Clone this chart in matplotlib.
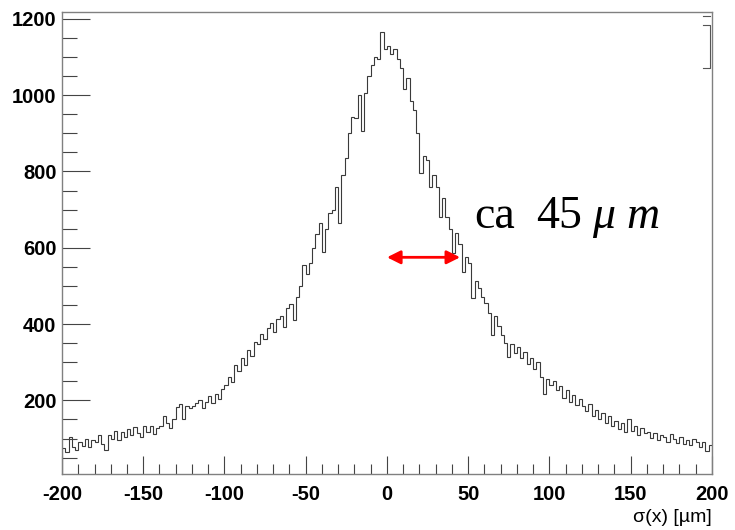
import numpy as np
import matplotlib.pyplot as plt
from matplotlib.lines import Line2D

# histogram range and binning (200 bins of 2 um)
x_min, x_max = -200, 200
n_bins = 200

# bin contents, 10 bins per row (20 um each)
counts = [
    76, 64, 104, 78, 70, 92, 80, 98, 78, 96,             # -200 .. -180
    92, 110, 86, 70, 108, 98, 120, 96, 116, 104,         # -180 .. -160
    124, 108, 130, 114, 104, 134, 118, 132, 112, 128,    # -160 .. -140
    132, 158, 140, 128, 150, 182, 190, 150, 184, 180,    # -140 .. -120
    186, 192, 200, 180, 196, 212, 194, 216, 204, 230,    # -120 .. -100
    240, 262, 248, 292, 276, 312, 294, 332, 316, 352,    # -100 .. -80
    348, 374, 362, 390, 404, 378, 414, 420, 392, 442,    # -80 .. -60
    452, 410, 470, 500, 556, 530, 560, 600, 636, 665,    # -60 .. -40
    590, 650, 690, 700, 760, 665, 790, 835, 900, 942,    # -40 .. -20
    940, 1000, 905, 1005, 1050, 1080, 1100, 1095, 1165, 1120,  # -20 .. 0
    1128, 1108, 1120, 1095, 1070, 1016, 1045, 985, 960, 900,   # 0 .. 20
    797, 840, 830, 758, 790, 760, 681, 730, 680, 650,    # 20 .. 40
    587, 640, 610, 537, 575, 560, 468, 512, 495, 470,    # 40 .. 60
    455, 430, 371, 420, 396, 372, 350, 313, 348, 325,    # 60 .. 80
    340, 312, 328, 296, 310, 282, 300, 262, 218, 256,    # 80 .. 100
    240, 250, 226, 238, 206, 228, 196, 214, 188, 204,    # 100 .. 120
    186, 172, 190, 160, 176, 150, 168, 140, 158, 134,    # 120 .. 140
    146, 124, 140, 118, 152, 120, 132, 108, 128, 114,    # 140 .. 160
    118, 102, 114, 96, 110, 104, 92, 112, 98, 88,        # 160 .. 180
    104, 86, 96, 82, 100, 90, 78, 92, 66, 84,            # 180 .. 200
]

arrow_y = 575
arrow_x0, arrow_x1 = 0, 45

plt.rcParams['font.family'] = ['Liberation Sans', 'DejaVu Sans']
plt.rcParams['axes.unicode_minus'] = False

fig = plt.figure(figsize=(7.35, 5.3), dpi=100)
ax = fig.add_axes([62 / 735, 1 - 474 / 530, 650 / 735, 462 / 530])

edges = np.linspace(x_min, x_max, n_bins + 1)
ax.stairs(counts, edges, color='#3a3a3a', linewidth=0.8)

ax.set_xlim(x_min, x_max)
ax.set_ylim(7, 1218)

ax.set_xticks(np.arange(-200, 201, 50))
ax.set_xticks(np.arange(-200, 201, 10), minor=True)
ax.set_yticks(np.arange(200, 1201, 200))
ax.set_yticks(np.arange(50, 1201, 50), minor=True)

ax.tick_params(axis='both', which='both', direction='in', color='#444444', width=0.8)
ax.tick_params(axis='x', which='major', length=13, pad=8)
ax.tick_params(axis='x', which='minor', length=7)
ax.tick_params(axis='y', which='major', length=20, pad=4)
ax.tick_params(axis='y', which='minor', length=11)
ax.tick_params(top=False, right=False, which='both')

for lab in ax.get_xticklabels() + ax.get_yticklabels():
    lab.set_fontweight('bold')
    lab.set_fontsize(14.5)

for sp in ax.spines.values():
    sp.set_color('#808080')
    sp.set_linewidth(1.0)

fig.text(712 / 735, 1 - 517 / 530, 'σ(x) [µm]', ha='right', va='center', fontsize=14)

# red double arrow marking the half width
ax.annotate('', xy=(arrow_x1, arrow_y), xytext=(arrow_x0, arrow_y),
            arrowprops=dict(arrowstyle='<|-|>', color='red', lw=2,
                            mutation_scale=20, shrinkA=0, shrinkB=0))

# "ca 45 um" label in serif
serif = ['Liberation Serif', 'DejaVu Serif']
by = 1 - 228 / 530
fig.text(474 / 735, by, 'ca', family=serif, fontsize=33, va='baseline')
fig.text(536 / 735, by, '45', family=serif, fontsize=33, va='baseline')
fig.text(592 / 735, by, 'μ', family=serif, fontsize=33, style='italic', va='baseline')
fig.text(626 / 735, by, 'm', family=serif, fontsize=33, style='italic', va='baseline')

# small bracket left over from the stats box at the top right
def px_line(xs, ys):
    fig.add_artist(Line2D([x / 735 for x in xs], [1 - y / 530 for y in ys],
                          color='#555555', lw=0.8))

px_line([703, 710], [16, 16])
px_line([703, 710, 710, 703], [25, 25, 68, 68])

fig.savefig('out.png', dpi=100)
